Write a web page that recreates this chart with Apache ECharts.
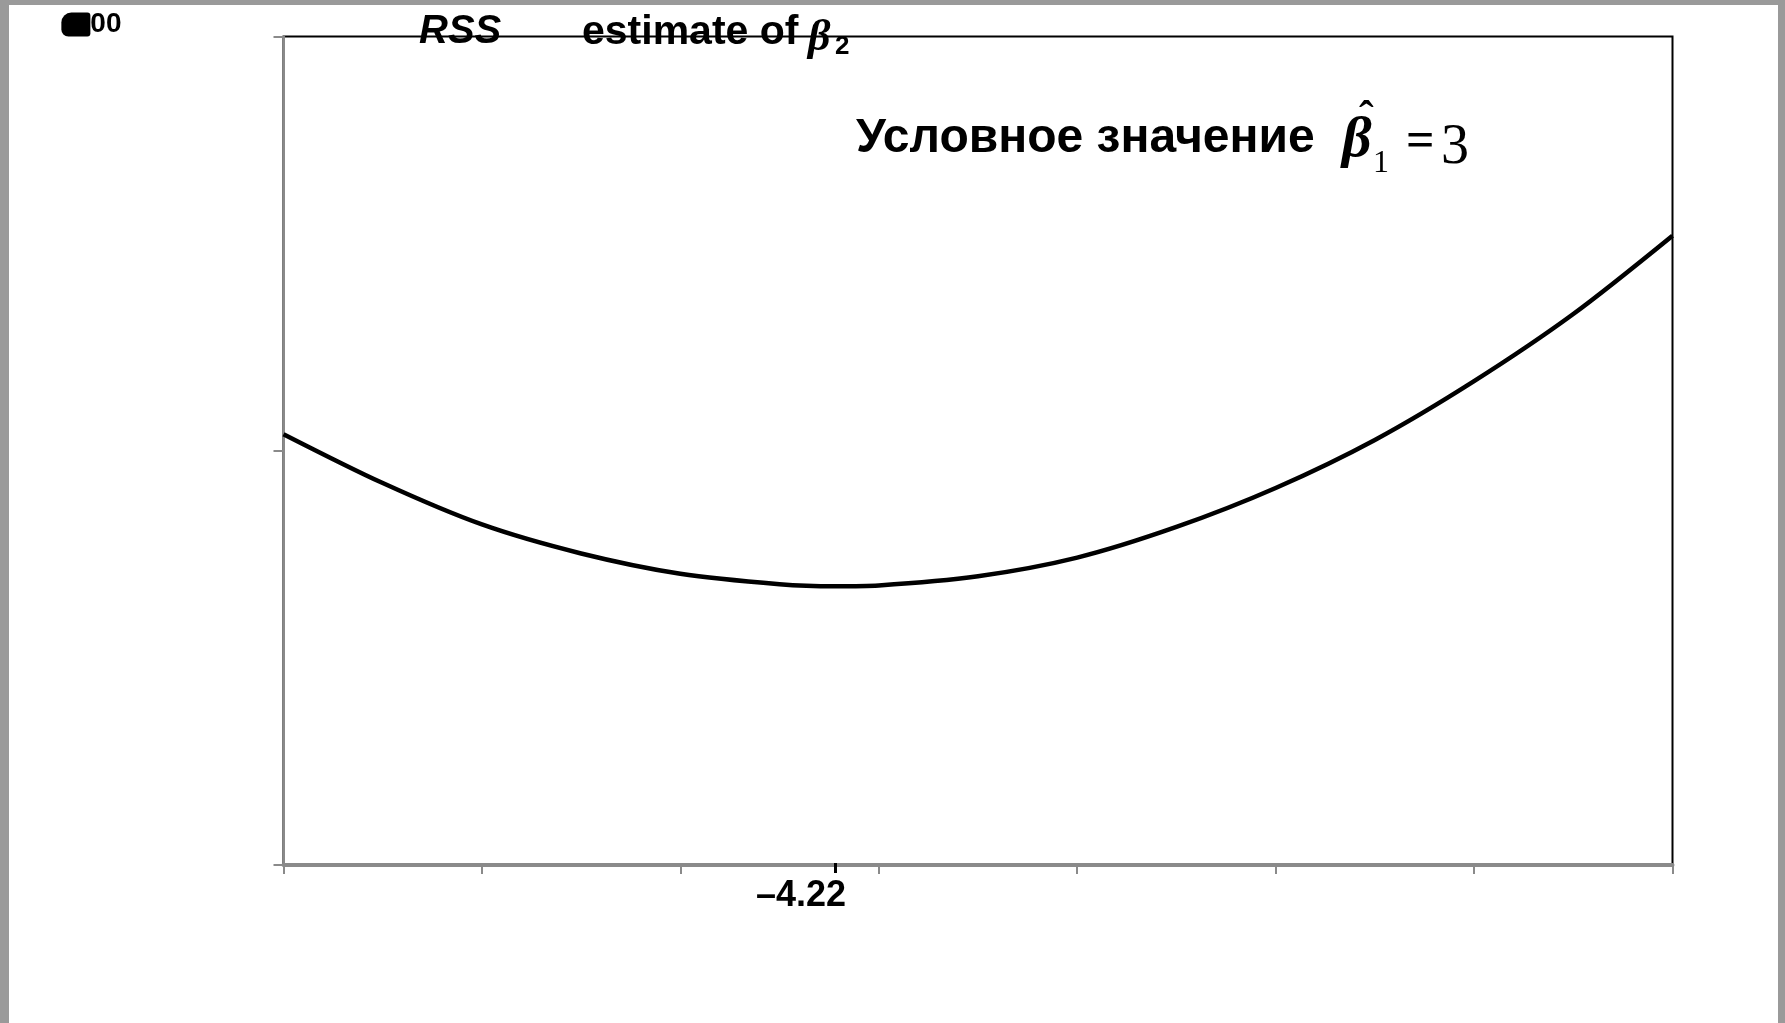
<!DOCTYPE html>
<html>
<head>
<meta charset="utf-8">
<script src="https://cdn.jsdelivr.net/npm/echarts@6/dist/echarts.min.js"></script>
<style>
    html, body { margin: 0; padding: 0; background: #fff; }
    #rssChart { width: 1785px; height: 1023px; }
</style>
</head>
<body>
<div id="rssChart"></div>
<script>
// b2 values and RSS (b1 fixed at 3)
const b2Values = [-7, -6.5, -6, -5.5, -5, -4.5, -4.22, -4, -3.5, -3, -2.5, -2, -1.5, -1, -0.5, 0];
const rssValues = [104.0, 92.2, 82.2, 75.2, 70.3, 67.8, 67.3, 67.5, 69.7, 74.2, 81.6, 91.0, 102.6, 116.8, 133.0, 151.9];
const b2Min = -4.22;
const b2MinLabel = "\u20134.22";
const yTopValue = 200;
const yTopLabel = "00";

let rssChart = echarts.init(document.getElementById("rssChart"));

let sansBold = {
    fontFamily: "Liberation Sans",
    fontWeight: "bold",
    color: "#000",
};

rssChart.setOption({
    animation: false,
    backgroundColor: "#fff",
    grid: {
        left: 283.5,
        right: 112.5,
        top: 36.5,
        bottom: 158,
        show: true,
        borderColor: "#000",
        borderWidth: 2,
        backgroundColor: "transparent",
    },
    xAxis: [
        {
            type: "value",
            min: -7,
            max: 0,
            interval: 1,
            axisLine: { show: true, onZero: false, lineStyle: { color: "#8a8a8a", width: 4 } },
            axisTick: { show: true, length: 9, lineStyle: { color: "#8a8a8a", width: 2 } },
            axisLabel: { show: false },
            splitLine: { show: false },
        },
        {
            // the marked minimum of the curve
            type: "value",
            min: -7,
            max: 0,
            position: "bottom",
            offset: -2,
            axisLine: { show: false },
            axisTick: {
                show: true,
                customValues: [b2Min],
                length: 10,
                lineStyle: { color: "#000", width: 3 },
            },
            axisLabel: {
                show: true,
                customValues: [b2Min],
                formatter: function () {
                    return b2MinLabel;
                },
                align: "right",
                padding: [0, -11, 0, 0],
                margin: 15.5,
                fontSize: 36,
                ...sansBold,
            },
            splitLine: { show: false },
        },
    ],
    yAxis: {
        type: "value",
        min: 0,
        max: 200,
        interval: 100,
        axisLine: { show: true, onZero: false, lineStyle: { color: "#8a8a8a", width: 2 } },
        axisTick: { show: true, length: 10, lineStyle: { color: "#8a8a8a", width: 2 } },
        axisLabel: {
            show: true,
            customValues: [yTopValue],
            formatter: function () {
                return "{blk| }{num|" + yTopLabel + "}";
            },
            margin: 162,
            verticalAlign: "bottom",
            rich: {
                blk: {
                    backgroundColor: "#000",
                    width: 29,
                    height: 24,
                    borderRadius: [10, 3, 3, 7],
                },
                num: {
                    fontSize: 28,
                    lineHeight: 24,
                    ...sansBold,
                },
            },
        },
        splitLine: { show: false },
    },
    series: {
        type: "line",
        xAxisIndex: 0,
        data: b2Values.map(function (b, i) {
            return [b, rssValues[i]];
        }),
        smooth: 0.3,
        showSymbol: false,
        lineStyle: { color: "#000", width: 4.5 },
    },
    graphic: [
        // grey frame of the scanned page
        { type: "rect", shape: { x: 0, y: 0, width: 1785, height: 5 }, style: { fill: "#9a9a9a" }, z: 100 },
        { type: "rect", shape: { x: 0, y: 0, width: 9, height: 1023 }, style: { fill: "#9a9a9a" }, z: 100 },
        { type: "rect", shape: { x: 1778, y: 0, width: 7, height: 1023 }, style: { fill: "#9a9a9a" }, z: 100 },
        // axis titles
        {
            type: "text", left: 419, top: 12, z: 50,
            style: { text: "RSS", font: "italic bold 40px 'Liberation Sans'", fill: "#000" },
        },
        {
            type: "text", left: 582, top: 12, z: 50,
            style: { text: "estimate of", font: "bold 41px 'Liberation Sans'", fill: "#000" },
        },
        {
            type: "text", left: 808, top: 17, z: 50,
            style: { text: "\u03b2", font: "italic bold 44px 'Liberation Serif'", fill: "#000" },
        },
        {
            type: "text", left: 835, top: 34, z: 50,
            style: { text: "2", font: "bold 26px 'Liberation Sans'", fill: "#000" },
        },
        // annotation
        {
            type: "text", left: 856, top: 115, z: 50,
            style: { text: "Условное значение", font: "bold 48px 'Liberation Sans'", fill: "#000" },
        },
        {
            type: "text", left: 1342, top: 112, z: 50,
            style: { text: "\u03b2", font: "italic bold 58px 'Liberation Serif'", fill: "#000" },
        },
        {
            type: "text", left: 1359, top: 98, z: 50,
            style: { text: "\u02c6", font: "bold 44px 'Liberation Serif'", fill: "#000" },
        },
        {
            type: "text", left: 1373, top: 148, z: 50,
            style: { text: "1", font: "32px 'Liberation Serif'", fill: "#000" },
        },
        {
            type: "text", left: 1406, top: 118, z: 50,
            style: { text: "=", font: "bold 50px 'Liberation Serif'", fill: "#000" },
        },
        {
            type: "text", left: 1441, top: 120, z: 50,
            style: { text: "3", font: "56px 'Liberation Serif'", fill: "#000" },
        },
    ],
});
window.addEventListener("resize", function () {
    rssChart.resize();
});
</script>
</body>
</html>
